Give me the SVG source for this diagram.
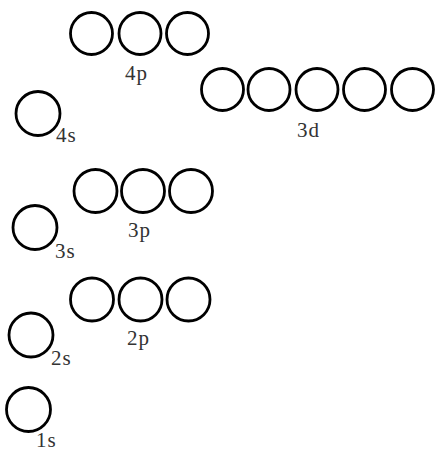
<svg xmlns="http://www.w3.org/2000/svg" width="437" height="453" viewBox="0 0 437 453">
<style>
.o{fill:none;stroke:#000;stroke-width:2.8}
.t{font-family:"Liberation Serif","Times New Roman",serif;font-size:21px;fill:#333;letter-spacing:1px}
</style>
<rect width="437" height="453" fill="#fff"/>
<g id="n4p">
<circle class="o" cx="91.5" cy="33.5" r="21"/>
<circle class="o" cx="140" cy="33.5" r="21"/>
<circle class="o" cx="187.5" cy="33.5" r="21"/>
<text class="t" x="125" y="80">4p</text>
</g>
<g id="n4s">
<circle class="o" cx="38" cy="113.5" r="22"/>
<text class="t" x="56" y="142">4s</text>
</g>
<g id="n3d">
<circle class="o" cx="222.5" cy="89.5" r="21"/>
<circle class="o" cx="269" cy="89.5" r="21"/>
<circle class="o" cx="317" cy="89.5" r="21"/>
<circle class="o" cx="364.5" cy="89.5" r="21"/>
<circle class="o" cx="412.5" cy="89.5" r="21"/>
<text class="t" x="297" y="137">3d</text>
</g>
<g id="n3p">
<circle class="o" cx="95.5" cy="191" r="21.5"/>
<circle class="o" cx="143" cy="191" r="21.5"/>
<circle class="o" cx="191" cy="191" r="21.5"/>
<text class="t" x="128" y="237">3p</text>
</g>
<g id="n3s">
<circle class="o" cx="35" cy="227.5" r="22"/>
<text class="t" x="55" y="258">3s</text>
</g>
<g id="n2p">
<circle class="o" cx="92" cy="299.5" r="21.5"/>
<circle class="o" cx="140.5" cy="299.5" r="21.5"/>
<circle class="o" cx="188.5" cy="299.5" r="21.5"/>
<text class="t" x="127" y="345">2p</text>
</g>
<g id="n2s">
<circle class="o" cx="31" cy="335" r="22"/>
<text class="t" x="51" y="365">2s</text>
</g>
<g id="n1s">
<circle class="o" cx="28.5" cy="409.5" r="22"/>
<text class="t" x="36" y="447">1s</text>
</g>
<g id="connectors"/>
</svg>
